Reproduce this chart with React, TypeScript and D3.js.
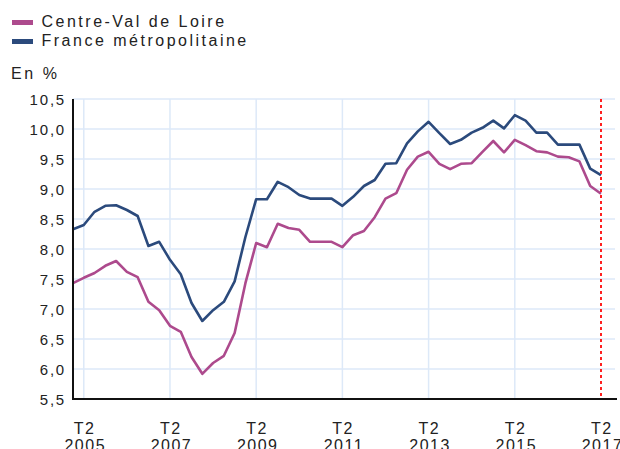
import React from "react";
import * as d3 from "d3";

const quarters: string[] = [
  "2005T1","2005T2","2005T3","2005T4","2006T1","2006T2","2006T3","2006T4",
  "2007T1","2007T2","2007T3","2007T4","2008T1","2008T2","2008T3","2008T4",
  "2009T1","2009T2","2009T3","2009T4","2010T1","2010T2","2010T3","2010T4",
  "2011T1","2011T2","2011T3","2011T4","2012T1","2012T2","2012T3","2012T4",
  "2013T1","2013T2","2013T3","2013T4","2014T1","2014T2","2014T3","2014T4",
  "2015T1","2015T2","2015T3","2015T4","2016T1","2016T2","2016T3","2016T4",
  "2017T1","2017T2",
];

const centreValDeLoire: number[] = [
  7.43, 7.52, 7.6, 7.72, 7.8, 7.62, 7.53, 7.12, 6.98, 6.72,
  6.62, 6.2, 5.92, 6.1, 6.22, 6.6, 7.43, 8.1, 8.03, 8.42,
  8.35, 8.32, 8.12, 8.12, 8.12, 8.03, 8.23, 8.3, 8.53, 8.84,
  8.93, 9.32, 9.54, 9.62, 9.42, 9.33, 9.42, 9.43, 9.62, 9.8,
  9.61, 9.82, 9.73, 9.63, 9.61, 9.54, 9.53, 9.46, 9.05, 8.92,
];

const franceMetro: number[] = [
  8.33, 8.4, 8.62, 8.72, 8.73, 8.65, 8.55, 8.05, 8.12, 7.82,
  7.58, 7.1, 6.8, 6.98, 7.12, 7.46, 8.2, 8.83, 8.83, 9.12,
  9.03, 8.9, 8.84, 8.84, 8.84, 8.72, 8.87, 9.05, 9.15, 9.42,
  9.43, 9.76, 9.96, 10.12, 9.93, 9.75, 9.82, 9.94, 10.02, 10.14,
  10.01, 10.23, 10.14, 9.94, 9.94, 9.74, 9.74, 9.74, 9.34, 9.23,
];

const yTicks: number[] = [5.5, 6.0, 6.5, 7.0, 7.5, 8.0, 8.5, 9.0, 9.5, 10.0, 10.5];
const xTickQuarters: string[] = ["2005T2","2007T2","2009T2","2011T2","2013T2","2015T2","2017T2"];
const seriesNames: string[] = ["Centre-Val de Loire", "France métropolitaine"];
const seriesColors: string[] = ["#ad4a8d", "#2b4a7c"];

const FONT = "'Liberation Sans', Arial, sans-serif";

export default function App() {
  const left = 73, right = 615, top = 99, bottom = 399;
  const x = d3.scaleLinear().domain([0, quarters.length - 1]).range([73, 601]);
  const y = d3.scaleLinear().domain([5.5, 10.5]).range([bottom, top]);
  const line = d3.line<number>().x((_, i) => x(i)).y((d) => y(d));
  const series = [centreValDeLoire, franceMetro];
  const fmt = (v: number) => v.toFixed(1).replace(".", ",");

  return (
    <svg width={620} height={449} style={{ position: "absolute", left: 0, top: 0, background: "#fff" }}
      fontFamily={FONT}>
      {/* legend */}
      {seriesNames.map((n, i) => (
        <g key={n}>
          <rect x={12} y={20 + i * 19} width={21} height={5} fill={seriesColors[i]} />
          <text x={41.5} y={27 + i * 19} fontSize={16} letterSpacing={2.5} fill="#222">{n}</text>
        </g>
      ))}
      <text x={11} y={78.5} fontSize={16} letterSpacing={2.6} fill="#222">En %</text>

      {/* horizontal grid */}
      {yTicks.filter((t) => t > 5.5).map((t) => (
        <line key={t} x1={left} x2={right} y1={y(t)} y2={y(t)} stroke="#dde9f8" strokeWidth={1.5} />
      ))}
      {/* vertical grid */}
      {xTickQuarters.slice(0, -1).map((q) => {
        const xi = x(quarters.indexOf(q));
        return <line key={q} x1={xi} x2={xi} y1={top} y2={bottom} stroke="#dde9f8" strokeWidth={1.5} />;
      })}

      {/* y labels */}
      {yTicks.map((t) => (
        <text key={t} x={66} y={y(t) + 5.5} fontSize={15} letterSpacing={1.8} textAnchor="end" fill="#222">{fmt(t)}</text>
      ))}

      {/* x labels */}
      {xTickQuarters.map((q) => {
        const xi = x(quarters.indexOf(q));
        return (
          <g key={q}>
            <text x={xi + 0.8} y={433.5} fontSize={16} letterSpacing={1.5} textAnchor="middle" fill="#222">T2</text>
            <text x={xi + 1.5} y={450.5} fontSize={16} letterSpacing={1.5} textAnchor="middle" fill="#222">{q.slice(0, 4)}</text>
          </g>
        );
      })}

      {/* series */}
      {series.map((s, i) => (
        <path key={i} d={line(s) || ""} fill="none" stroke={seriesColors[i]} strokeWidth={2.6} strokeLinejoin="round" />
      ))}

      {/* red dotted line at last quarter */}
      <line x1={x(quarters.length - 1)} x2={x(quarters.length - 1)} y1={top} y2={bottom}
        stroke="#ff2020" strokeWidth={2} strokeDasharray="3,3" />

      {/* axes */}
      <line x1={left} x2={left} y1={top} y2={bottom + 1} stroke="#111" strokeWidth={2} />
      <line x1={left - 1} x2={617} y1={bottom} y2={bottom} stroke="#111" strokeWidth={2} />
    </svg>
  );
}
